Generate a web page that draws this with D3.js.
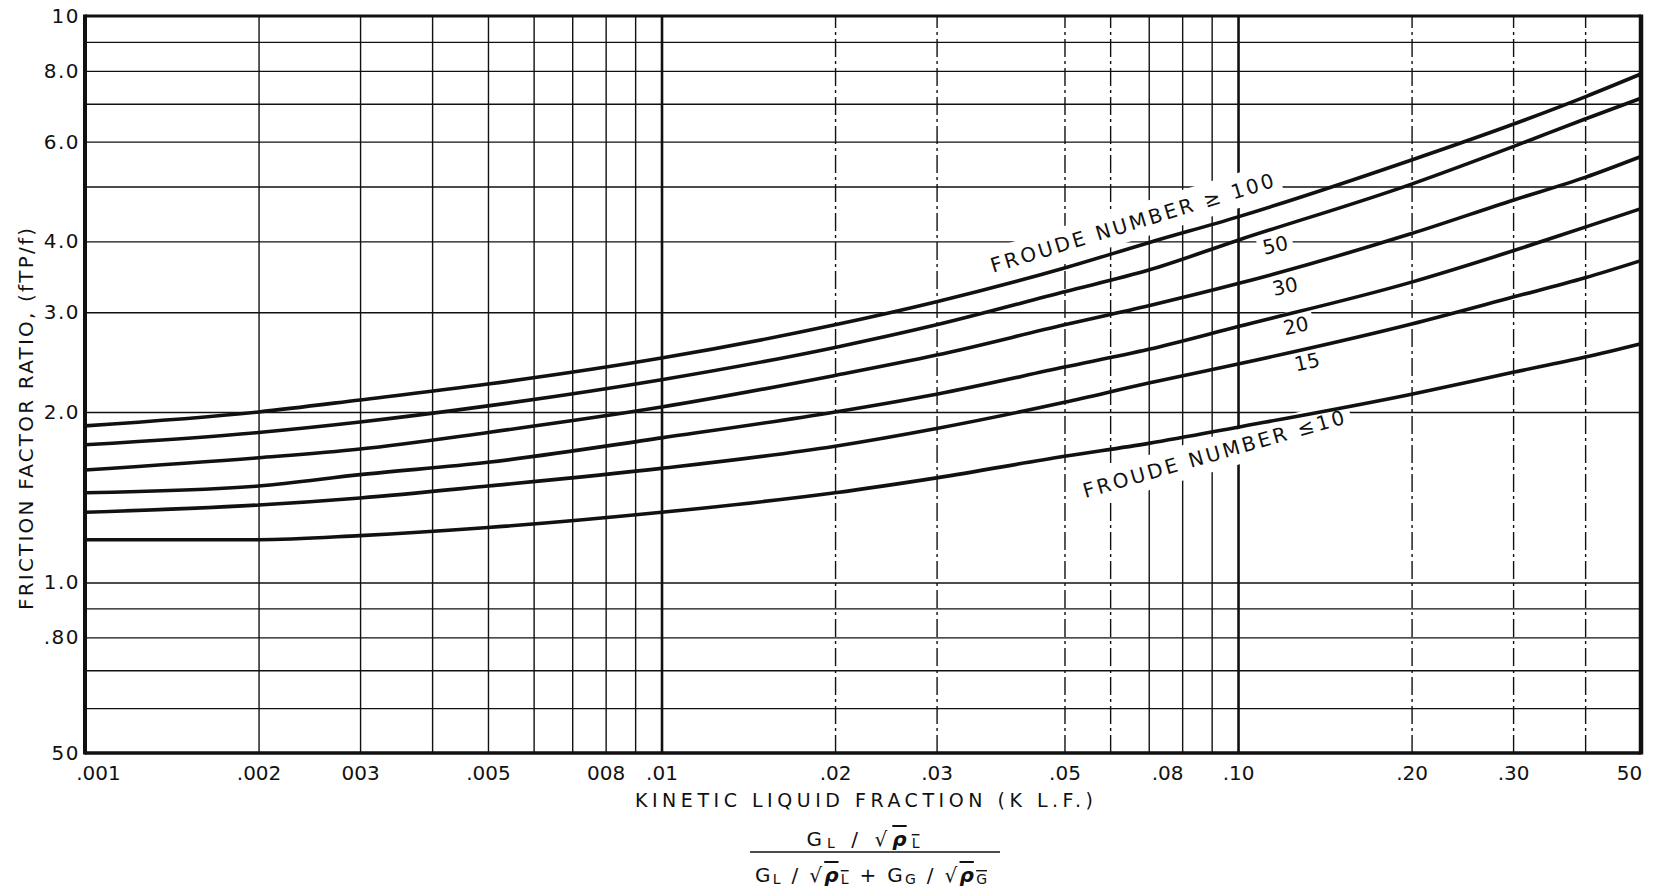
<!DOCTYPE html>
<html>
<head>
<meta charset="utf-8">
<script src="https://cdn.jsdelivr.net/npm/d3@7"></script>
<style>
  html, body { margin: 0; padding: 0; background: #fff; }
  svg { display: block; }
  text { font-family: "DejaVu Sans", sans-serif; fill: #111; }
</style>
</head>
<body>
<svg id="chart"></svg>
<script>
// kinetic liquid fraction where the curves were read
const klf = [0.001, 0.002, 0.003, 0.005, 0.01, 0.02, 0.03, 0.05, 0.07, 0.1, 0.2, 0.3, 0.4, 0.5];

// friction factor ratio (fTP/f) per froude number
const froude100 = [1.89, 2.00, 2.10, 2.24, 2.49, 2.85, 3.13, 3.59, 3.98, 4.42, 5.57, 6.44, 7.20, 7.90];
const froude50  = [1.75, 1.84, 1.92, 2.05, 2.28, 2.60, 2.85, 3.26, 3.56, 4.02, 5.05, 5.88, 6.58, 7.16];
const froude30  = [1.58, 1.66, 1.72, 1.84, 2.04, 2.32, 2.52, 2.85, 3.08, 3.37, 4.13, 4.73, 5.19, 5.65];
const froude20  = [1.44, 1.48, 1.55, 1.63, 1.80, 2.00, 2.15, 2.40, 2.58, 2.83, 3.39, 3.85, 4.24, 4.57];
const froude15  = [1.33, 1.37, 1.41, 1.48, 1.59, 1.74, 1.87, 2.08, 2.25, 2.43, 2.86, 3.19, 3.45, 3.70];
const froude10  = [1.19, 1.19, 1.21, 1.25, 1.33, 1.44, 1.53, 1.67, 1.76, 1.88, 2.15, 2.35, 2.50, 2.64];

// grid lines of the printed paper (no line at .04)
const xGrid = [0.002, 0.003, 0.004, 0.005, 0.006, 0.007, 0.008, 0.009, 0.01,
               0.02, 0.03, 0.05, 0.06, 0.07, 0.08, 0.09, 0.1, 0.2, 0.3, 0.4];
const yGrid = [0.6, 0.7, 0.8, 0.9, 1, 2, 3, 4, 5, 6, 7, 8, 9];

const xTickValues = [0.001, 0.002, 0.003, 0.005, 0.008, 0.01, 0.02, 0.03, 0.05, 0.08, 0.1, 0.2, 0.3, 0.5];
const xTickLabels = ['.001', '.002', '003', '.005', '008', '.01', '.02', '.03', '.05', '.08', '.10', '.20', '.30', '50'];
const yTickValues = [10, 8, 6, 4, 3, 2, 1, 0.8, 0.5];
const yTickLabels = ['10', '8.0', '6.0', '4.0', '3.0', '2.0', '1.0', '.80', '50'];

const series = [froude100, froude50, froude30, froude20, froude15, froude10];

// styling of individual grid lines
const heavyX = [0.01, 0.1];
const dashedX = [0.02, 0.03, 0.05, 0.06, 0.2, 0.3, 0.4];
const labelShift = { 0.001: 13, 0.08: -15, 0.5: -12 };

// curve labels, placed in data coordinates
const curveLabels = [
  { text: 'FROUDE NUMBER \u2265 100', k: 0.0376, f: 3.52, angle: -17, anchor: 'start', len: 295, pad: 7 },
  { text: '50', k: 0.116, f: 3.94, angle: -12, anchor: 'middle', pad: 5 },
  { text: '30', k: 0.1206, f: 3.33, angle: -12, anchor: 'middle', pad: 5 },
  { text: '20', k: 0.126, f: 2.84, angle: -12, anchor: 'middle', pad: 5 },
  { text: '15', k: 0.1317, f: 2.45, angle: -12, anchor: 'middle', pad: 5 },
  { text: 'FROUDE NUMBER \u226410', k: 0.0543, f: 1.409, angle: -16, anchor: 'start', len: 271, pad: 7 }
];

const width = 1664, height = 893;
const margin = { top: 16, right: 23, bottom: 140, left: 85 };
const w = width - margin.left - margin.right;
const h = height - margin.top - margin.bottom;

const svg = d3.select('#chart').attr('width', width).attr('height', height);
svg.append('rect').attr('width', width).attr('height', height).attr('fill', '#fff');

const x = d3.scaleLog().domain([0.001, 0.5]).range([0, w]);
const y = d3.scaleLog().domain([0.5, 10]).range([h, 0]);

const g = svg.append('g').attr('transform', `translate(${margin.left},${margin.top})`);

// vertical grid
g.append('g')
  .attr('transform', `translate(0,${h})`)
  .call(d3.axisBottom(x).tickValues(xGrid).tickSize(-h).tickFormat(''))
  .call(a => a.select('.domain').remove())
  .selectAll('.tick line')
  .attr('stroke', '#111')
  .attr('stroke-width', d => heavyX.includes(d) ? 2.6 : 1.4)
  .attr('stroke-dasharray', d => dashedX.includes(d) ? '18,4,3,4' : null);

// horizontal grid
g.append('g')
  .call(d3.axisLeft(y).tickValues(yGrid).tickSize(-w).tickFormat(''))
  .call(a => a.select('.domain').remove())
  .selectAll('.tick line')
  .attr('stroke', '#111')
  .attr('stroke-width', 1.4);

// frame
g.append('line').attr('x1', 0).attr('x2', w).attr('y1', 0).attr('y2', 0).attr('stroke', '#111').attr('stroke-width', 3);
g.append('line').attr('x1', 0).attr('x2', w).attr('y1', h).attr('y2', h).attr('stroke', '#111').attr('stroke-width', 3.5);
g.append('line').attr('x1', 0).attr('x2', 0).attr('y1', -1.5).attr('y2', h + 1.5).attr('stroke', '#111').attr('stroke-width', 4);
g.append('line').attr('x1', w).attr('x2', w).attr('y1', -1.5).attr('y2', h + 1.5).attr('stroke', '#111').attr('stroke-width', 4.5);

// tick labels
const xAxis = g.append('g')
  .attr('transform', `translate(0,${h})`)
  .call(d3.axisBottom(x).tickValues(xTickValues).tickSize(0).tickPadding(13)
    .tickFormat((d, i) => xTickLabels[i]));
xAxis.select('.domain').remove();
xAxis.selectAll('text')
  .attr('font-size', 20)
  .attr('font-family', '"DejaVu Sans", sans-serif')
  .attr('dx', d => labelShift[d] || 0);

const yAxis = g.append('g')
  .call(d3.axisLeft(y).tickValues(yTickValues).tickSize(0).tickPadding(5)
    .tickFormat((d, i) => yTickLabels[i]));
yAxis.select('.domain').remove();
yAxis.selectAll('text')
  .attr('font-size', 20)
  .attr('letter-spacing', 1.5)
  .attr('font-family', '"DejaVu Sans", sans-serif');

// curve labels on a white patch that breaks the grid behind them
const labels = g.append('g')
  .selectAll('g')
  .data(curveLabels)
  .enter().append('g')
  .attr('transform', d => `translate(${x(d.k)},${y(d.f)}) rotate(${d.angle})`);

labels.append('text')
  .attr('text-anchor', d => d.anchor)
  .attr('dy', d => d.anchor === 'middle' ? '0.35em' : 0)
  .attr('font-size', 20)
  .attr('textLength', d => d.len || null)
  .attr('lengthAdjust', 'spacing')
  .text(d => d.text);

labels.each(function(d) {
  const grp = d3.select(this);
  const b = grp.select('text').node().getBBox();
  grp.insert('rect', 'text')
    .attr('x', b.x - d.pad)
    .attr('y', b.y - d.pad + 2)
    .attr('width', b.width + 2 * d.pad)
    .attr('height', b.height + 2 * d.pad - 4)
    .attr('fill', '#fff');
});

// curves
const line = d3.line()
  .x((d, i) => x(klf[i]))
  .y(d => y(d))
  .curve(d3.curveMonotoneX);

g.append('g')
  .selectAll('path')
  .data(series)
  .enter().append('path')
  .attr('d', line)
  .attr('fill', 'none')
  .attr('stroke', '#111')
  .attr('stroke-width', 3.6)
  .attr('stroke-linecap', 'round');

// axis titles
svg.append('text')
  .attr('transform', 'translate(33,419) rotate(-90)')
  .attr('text-anchor', 'middle')
  .attr('font-size', 20)
  .attr('textLength', 382)
  .attr('lengthAdjust', 'spacing')
  .text('FRICTION FACTOR RATIO, (fTP/f)');

svg.append('text')
  .attr('x', 864)
  .attr('y', 807)
  .attr('text-anchor', 'middle')
  .attr('font-size', 19)
  .attr('textLength', 458)
  .attr('lengthAdjust', 'spacing')
  .text('KINETIC LIQUID FRACTION (K L.F.)');

// K.L.F. definition as a fraction
function addTerm(t, base, sub) {
  t.append('tspan').text(base);
  t.append('tspan').attr('font-size', 14).attr('dy', 2).text(sub);
}
function addRoot(t, sub) {
  t.append('tspan').attr('dy', -2).text(' / \u221A');
  const o = t.append('tspan').style('text-decoration', 'overline');
  o.append('tspan').attr('font-style', 'italic').attr('font-weight', 'bold').text('\u03C1');
  o.append('tspan').attr('font-size', 14).attr('dy', 2).text(sub);
}

const num = svg.append('text').attr('x', 863).attr('y', 846).attr('text-anchor', 'middle')
  .attr('font-size', 20).attr('textLength', 113).attr('lengthAdjust', 'spacing');
addTerm(num, 'G', 'L');
addRoot(num, 'L');

svg.append('line')
  .attr('x1', 750).attr('x2', 1000).attr('y1', 852).attr('y2', 852)
  .attr('stroke', '#111').attr('stroke-width', 1.6);

const den = svg.append('text').attr('x', 871).attr('y', 882).attr('text-anchor', 'middle')
  .attr('font-size', 20).attr('textLength', 232).attr('lengthAdjust', 'spacing');
addTerm(den, 'G', 'L');
addRoot(den, 'L');
den.append('tspan').attr('dy', -2).text(' + G');
den.append('tspan').attr('font-size', 14).attr('dy', 2).text('G');
addRoot(den, 'G');
</script>
</body>
</html>
